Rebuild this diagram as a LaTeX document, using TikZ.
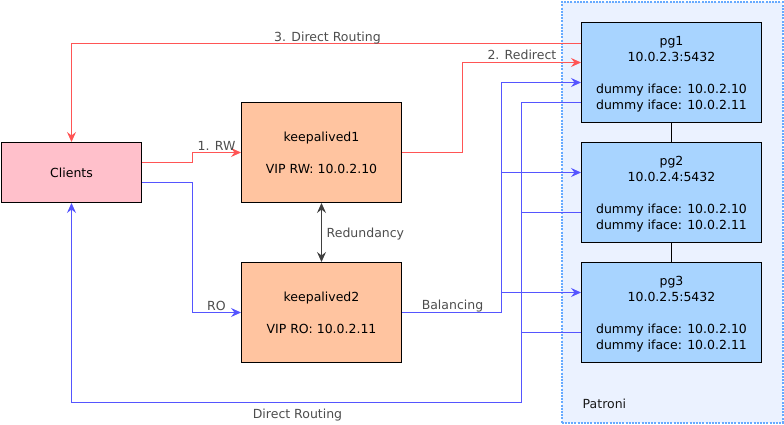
\documentclass[tikz,border=0pt]{standalone}
\usepackage{fontspec}
\setmainfont{DejaVu Sans}
\usetikzlibrary{arrows.meta}
\definecolor{redl}{RGB}{255,85,85}
\definecolor{bluel}{RGB}{85,85,255}
\definecolor{graytxt}{RGB}{77,77,77}
\definecolor{darkl}{RGB}{64,64,64}
\definecolor{pinkf}{RGB}{255,192,203}
\definecolor{peachf}{RGB}{255,196,160}
\definecolor{pgf}{RGB}{168,212,255}
\definecolor{patf}{RGB}{235,242,255}
\definecolor{patb}{RGB}{102,170,255}
\tikzset{
  every node/.style={font=\fontsize{12.5}{16}\selectfont},
  box/.style={draw=black, line width=1pt, align=center, inner sep=0pt},
  clientbox/.style={box, fill=pinkf, minimum width=140pt, minimum height=60pt},
  kabox/.style={box, fill=peachf, minimum width=160pt, minimum height=100pt},
  pgbox/.style={box, fill=pgf, minimum width=180pt, minimum height=100pt, text depth=-2pt},
  patbox/.style={draw=patb, fill=patf, line width=2pt, dash pattern=on 2pt off 1.2pt, minimum width=221pt, minimum height=420pt, inner sep=0pt},
  tip/.style={-{Stealth[length=10pt,width=9pt,inset=3.5pt]}},
  redline/.style={draw=redl, line width=1pt},
  blueline/.style={draw=bluel, line width=1pt},
  lbl/.style={text=graytxt, inner sep=0pt},
}
\begin{document}
\begin{tikzpicture}[x=1pt,y=-1pt]
\useasboundingbox (-0.5,-0.5) rectangle (783.5,424.5);
% container
\node[patbox] (pat) at (671.5,212) {};
\node[anchor=west, text=black!90, inner sep=0pt] (patlbl) at (582,403) {Patroni};
% nodes
\node[clientbox] (cl) at (71,172) {Clients};
\node[kabox] (k1) at (321,152) {keepalived1\\[16pt]VIP RW: 10.0.2.10};
\node[kabox] (k2) at (321,312) {keepalived2\\[16pt]VIP RO: 10.0.2.11};
\node[pgbox] (pg1) at (671,72) {pg1\\10.0.2.3:5432\\[16pt]dummy iface: 10.0.2.10\\dummy iface: 10.0.2.11};
\node[pgbox] (pg2) at (671,192) {pg2\\10.0.2.4:5432\\[16pt]dummy iface: 10.0.2.10\\dummy iface: 10.0.2.11};
\node[pgbox] (pg3) at (671,312) {pg3\\10.0.2.5:5432\\[16pt]dummy iface: 10.0.2.10\\dummy iface: 10.0.2.11};
% pg chain
\draw[line width=1pt] (pg1.south) -- (pg2.north);
\draw[line width=1pt] (pg2.south) -- (pg3.north);
% redundancy
\draw[draw=darkl, line width=1pt, {Stealth[length=10pt,width=9pt,inset=3.5pt]}-{Stealth[length=10pt,width=9pt,inset=3.5pt]}] (k1.south) -- (k2.north);
\node[lbl, anchor=west] (redl) at (326,234) {Redundancy};
% red connectors
\draw[redline, tip] (pg1.west |- 0,43) -| (cl.north);
\node[lbl] (l3) at (327,37.5) {3. Direct Routing};
\draw[redline, tip] (cl.east |- 0,162) -- ++(50,0) |- (k1.west);
\node[lbl] (l1) at (216,145.5) {1. RW};
\draw[redline, tip] (k1.east) -- ++(60,0) |- (pg1.west |- 0,62);
\node[lbl, anchor=east] (l2) at (556,54) {2. Redirect};
% blue connectors
\coordinate (bx) at (501,0);
\coordinate (dx) at (521,0);
\draw[blueline, tip] (cl.east |- 0,182) -- ++(50,0) |- (k2.west);
\node[lbl] (lro) at (216,305.5) {RO};
\draw[blueline, tip] (k2.east) -- (bx |- k2.east) |- (pg1.west |- 0,82);
\draw[blueline, tip] (bx |- 0,172) -- (pg2.west |- 0,172);
\draw[blueline, tip] (bx |- 0,292) -- (pg3.west |- 0,292);
\node[lbl] (lbal) at (452,305.5) {Balancing};
\draw[blueline, tip] (pg1.west |- 0,102) -| (dx |- 0,402) -| (cl.south);
\draw[blueline] (pg2.west |- 0,212) -- (dx |- 0,212);
\draw[blueline] (pg3.west |- 0,332) -- (dx |- 0,332);
\node[lbl] (ldr) at (297,415) {Direct Routing};
\end{tikzpicture}
\end{document}
